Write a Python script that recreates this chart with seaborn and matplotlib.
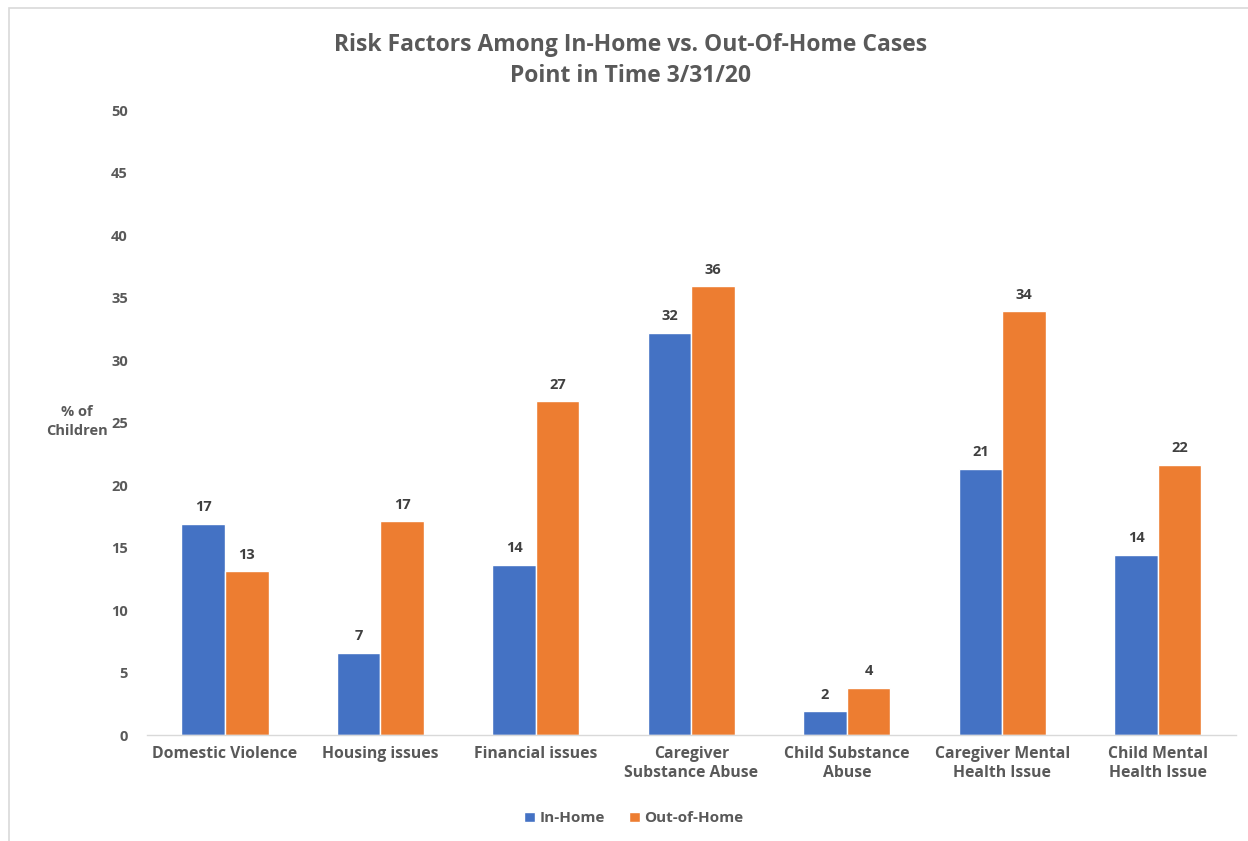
import matplotlib
matplotlib.use("Agg")
import matplotlib.pyplot as plt
import seaborn as sns
import pandas as pd
from matplotlib.patches import Rectangle

categories = ["Domestic Violence", "Housing issues", "Financial issues",
              "Caregiver\nSubstance Abuse", "Child Substance\nAbuse",
              "Caregiver Mental\nHealth Issue", "Child Mental\nHealth Issue"]
in_home = [16.9, 6.6, 13.6, 32.2, 1.9, 21.3, 14.4]
out_of_home = [13.1, 17.1, 26.7, 35.9, 3.8, 33.9, 21.6]
series = ["In-Home", "Out-of-Home"]
y_ticks = [0, 5, 10, 15, 20, 25, 30, 35, 40, 45, 50]

df = pd.DataFrame({
    "Category": categories * 2,
    "Series": [series[0]] * len(categories) + [series[1]] * len(categories),
    "Value": in_home + out_of_home,
})

sns.set_theme(style="white")
plt.rcParams["font.family"] = ["Open Sans", "DejaVu Sans"]

fig = plt.figure(figsize=(12.48, 8.41), dpi=100)
ax = fig.add_axes([0.118, 0.126, 0.872, 0.743])

palette = {"In-Home": "#4472C4", "Out-of-Home": "#ED7D31"}
sns.barplot(data=df, x="Category", y="Value", hue="Series", palette=palette,
            width=0.56, saturation=1, ax=ax, legend=True)

ax.set_ylim(0, 50)
ax.set_yticks(y_ticks)
ax.set_xlim(-0.5, len(categories) - 0.5)
for c in ax.containers:
    ax.bar_label(c, fmt="%.0f", padding=7, fontsize=10.5, fontweight="bold",
                 color="#404040")

for s in ["top", "right", "left"]:
    ax.spines[s].set_visible(False)
ax.spines["bottom"].set_color("#D9D9D9")
ax.spines["bottom"].set_linewidth(1)
ax.tick_params(axis="x", length=0, labelsize=11.3, labelcolor="#595959", pad=8)
ax.tick_params(axis="y", length=0, labelsize=10.5, labelcolor="#595959", pad=14)
for lbl in ax.get_xticklabels() + ax.get_yticklabels():
    lbl.set_fontweight("bold")
ax.set_xlabel("")
ax.set_ylabel("% of\nChildren", rotation=0, fontsize=10.5, fontweight="bold",
              color="#595959", ha="center", va="center", linespacing=1.5)
ax.yaxis.set_label_coords(-0.065, 0.502)

ax.legend_.remove()
handles, labels = ax.get_legend_handles_labels()
leg = fig.legend(handles, labels, loc="center", bbox_to_anchor=(0.508, 0.027),
                 ncol=2, frameon=False, handlelength=0.7,
                 handleheight=0.7, columnspacing=1.6, handletextpad=0.3,
                 labelcolor="#595959", prop={"size": 11, "weight": "bold"})

fig.text(0.505, 0.928, "Risk Factors Among In-Home vs. Out-Of-Home Cases\nPoint in Time 3/31/20",
         ha="center", va="center", fontsize=16.5, fontweight="bold",
         color="#595959", linespacing=1.35)

fig.patches.append(Rectangle((0.007, -0.01), 1.1, 1.0, transform=fig.transFigure,
                             fill=False, edgecolor="#D9D9D9", linewidth=1.2))

fig.savefig("out.png", dpi=100, facecolor="white")
